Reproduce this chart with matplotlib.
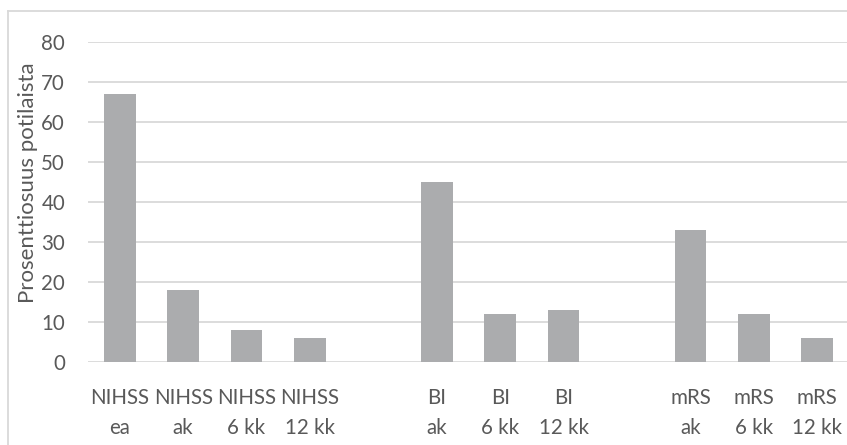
import numpy as np
import matplotlib
matplotlib.use("Agg")
import matplotlib.pyplot as plt
from matplotlib.lines import Line2D

plt.rcParams['font.family'] = ['Lato', 'DejaVu Sans']

# Category slots (empty strings separate the three measure groups)
labels = ["NIHSS\nea", "NIHSS\nak", "NIHSS\n6 kk", "NIHSS\n12 kk", "",
          "BI\nak", "BI\n6 kk", "BI\n12 kk", "",
          "mRS\nak", "mRS\n6 kk", "mRS\n12 kk"]
values = [67, 18, 8, 6, np.nan, 45, 12, 13, np.nan, 33, 12, 6]
yticks = [0, 10, 20, 30, 40, 50, 60, 70, 80]
ylabel = "Prosenttiosuus potilaista"

W, H = 847, 445
fig = plt.figure(figsize=(W / 100, H / 100), dpi=100)
ax = fig.add_axes([88 / W, 1 - 362 / H, (849 - 88) / W, (362 - 42) / H])

text_color = "#595959"
grid_color = "#D9D9D9"
bar_color = "#ABACAE"
tick_fs = 14.8

x = np.arange(len(labels))
ax.bar(x, values, width=0.5, color=bar_color, zorder=3)

ax.set_xlim(-0.5, len(labels) - 0.5)
ax.set_ylim(0, 80)
ax.set_yticks(yticks)
ax.set_xticks(x)
ax.set_xticklabels(labels, linespacing=1.62)
ax.yaxis.grid(True, color=grid_color, linewidth=1.3, zorder=0)
ax.set_axisbelow(True)
for s in ax.spines.values():
    s.set_visible(False)
ax.tick_params(axis="both", length=0, labelsize=tick_fs, colors=text_color)
ax.tick_params(axis="x", pad=18.5)
ax.tick_params(axis="y", pad=16.5)

fig.text(28 / W, 1 - 183 / H, ylabel, rotation=90, ha="center", va="center",
         fontsize=16, color=text_color)

# chart-area frame
fig.add_artist(Line2D([7.5 / W, 7.5 / W], [0, 1 - 10.5 / H],
                      transform=fig.transFigure, color=grid_color, lw=1.3))
fig.add_artist(Line2D([7.5 / W, 1], [1 - 10.5 / H, 1 - 10.5 / H],
                      transform=fig.transFigure, color=grid_color, lw=1.3))

fig.savefig("out.png", dpi=100, facecolor="white")
